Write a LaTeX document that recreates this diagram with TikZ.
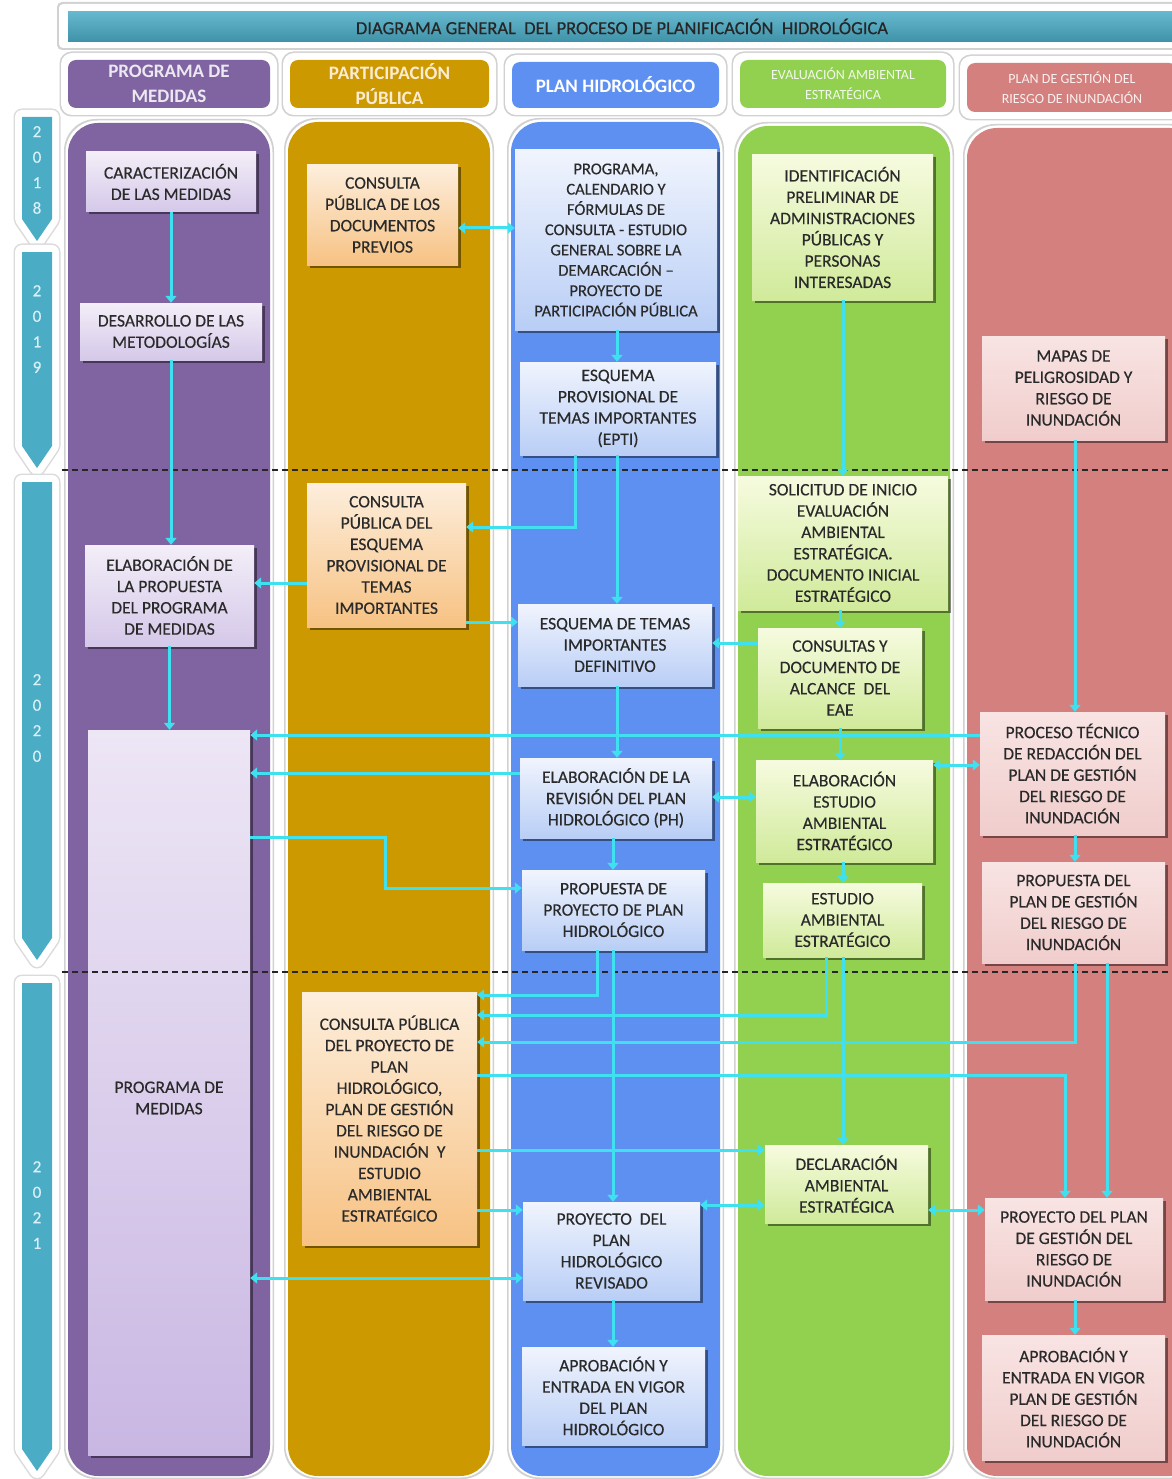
\documentclass[tikz,border=0pt]{standalone}
\usepackage{fontspec}
\setmainfont{Carlito}
\newfontfamily\boxfont{Carlito}[FakeBold=0.35]
\usetikzlibrary{arrows.meta,shadows}
\definecolor{cpurple}{HTML}{8064A2}
\definecolor{cgold}{HTML}{CC9900}
\definecolor{cblue}{HTML}{5E90F2}
\definecolor{cgreen}{HTML}{92D050}
\definecolor{cred}{HTML}{D4807E}
\definecolor{cteal}{HTML}{4BACC6}
\definecolor{cyanl}{HTML}{3FE0EF}
\definecolor{txt}{HTML}{2A2A2A}
\definecolor{yrtext}{HTML}{D8F0F6}
\definecolor{ptop}{HTML}{F3EEF8}
\definecolor{pbot}{HTML}{D5C8E9}
\definecolor{p4top}{HTML}{EDE6F5}
\definecolor{p4bot}{HTML}{C9B7E3}
\definecolor{gtop}{HTML}{FDEEDC}
\definecolor{gbot}{HTML}{F7C283}
\definecolor{btop}{HTML}{F0F4FD}
\definecolor{bbot}{HTML}{B9CEF6}
\definecolor{etop}{HTML}{F6FBDF}
\definecolor{ebot}{HTML}{D0EA9A}
\definecolor{rtop}{HTML}{F8E4E3}
\definecolor{rbot}{HTML}{F0CDCC}
\newcommand\mkbox[7]{\node[#2, minimum width={#5-#3}, minimum height={#6-#4}] (#1) at ({(#3+#5)/2},{(#4+#6)/2}) {#7};}
\newcommand\yeararrow[4]{%
 \draw[line width=17pt, black!14, line join=round] (22,#1) -- (52,#1) -- (52,{#2-22}) -- (37,#2) -- (22,{#2-22}) -- cycle;
 \draw[line width=14pt, white, line join=round] (22,#1) -- (52,#1) -- (52,{#2-22}) -- (37,#2) -- (22,{#2-22}) -- cycle;
 \fill[cteal] (22,#1) -- (52,#1) -- (52,{#2-22}) -- (37,#2) -- (22,{#2-22}) -- cycle;
 \node[yr] at (37,#3) {#4};}
\newcommand\column[6]{%
 \fill[black!18, rounded corners=32pt] ({#1-4},{#2-4}) rectangle ({#3+4},{#4+3});
 \fill[white, rounded corners=32pt] ({#1-2.5},{#2-2.5}) rectangle ({#3+2.5},{#4+1.5});
 \fill[#5, rounded corners=30pt] (#1,#2) rectangle (#3,#4);}
\begin{document}
\begin{tikzpicture}[x=1pt,y=-1pt,
 bx/.style={rectangle, inner sep=2pt, align=center, text=txt,
   font=\boxfont\fontsize{17.5}{21.3}\selectfont,
   drop shadow={shadow xshift=2.5pt, shadow yshift=-2.5pt, opacity=0.45, fill=black}},
 pbox/.style={bx, top color=ptop, bottom color=pbot},
 gbox/.style={bx, top color=gtop, bottom color=gbot},
 bbox/.style={bx, top color=btop, bottom color=bbot},
 ebox/.style={bx, top color=etop, bottom color=ebot},
 rbox/.style={bx, top color=rtop, bottom color=rbot},
 hdr/.style={rectangle, rounded corners=8pt, inner sep=0pt, align=center},
 yr/.style={text=yrtext, font=\boxfont\fontsize{17}{25.5}\selectfont, align=center, inner sep=0pt},
 ln/.style={draw=cyanl, line width=3pt},
 ar/.style={ln, -{Triangle[width=11pt,length=7pt]}},
 dar/.style={ln, {Triangle[width=11pt,length=7pt]}-{Triangle[width=11pt,length=7pt]}},
 sepline/.style={draw=black!85, line width=1.2pt, dash pattern=on 6pt off 4pt}]
\useasboundingbox (0,0) rectangle (1171,1479);
\fill[white] (0,0) rectangle (1171,1479);

% title bar
\fill[black!18, rounded corners=5pt] (57,2) rectangle (1190,50);
\fill[white, rounded corners=4pt] (59,4) rectangle (1190,48);
\node[rectangle, inner sep=0pt, minimum width=1108pt, minimum height=30pt,
  top color=cteal!85!white, bottom color=cteal!85!black, text=black!85,
  font=\boxfont\fontsize{18.5}{22}\selectfont] (title) at (622,26.5)
  {DIAGRAMA GENERAL\ \ DEL PROCESO DE PLANIFICACIÓN\ \ HIDROLÓGICA};

% headers
\foreach \a/\b/\c/\d in {61/53/277/115, 283/53/496/115, 505/55/726/115, 733/53/953/115, 960/56/1190/119}{
  \fill[black!18, rounded corners=12pt] ({\a-1.5},{\b-1.5}) rectangle ({\c+1.5},{\d+1.5});
  \fill[white, rounded corners=11pt] (\a,\b) rectangle (\c,\d);
}
\node[hdr, fill=cpurple, text=cpurple!15, minimum width=202pt, minimum height=48pt,
  font=\bfseries\fontsize{19}{25}\selectfont] (h1) at (169,84) {PROGRAMA DE\\MEDIDAS};
\node[hdr, fill=cgold, text=yellow!10!orange!15, minimum width=199pt, minimum height=48pt,
  font=\bfseries\fontsize{19}{25}\selectfont] (h2) at (389.5,84) {PARTICIPACIÓN\\PÚBLICA};
\node[hdr, fill=cblue, text=white, minimum width=207pt, minimum height=46pt,
  font=\bfseries\fontsize{19}{25}\selectfont] (h3) at (615.5,85) {PLAN HIDROLÓGICO};
\node[hdr, fill=cgreen, text=cgreen!12, minimum width=206pt, minimum height=48pt,
  font=\fontsize{14}{20}\selectfont] (h4) at (843,84) {EVALUACIÓN AMBIENTAL\\ESTRATÉGICA};
\node[hdr, fill=cred, text=cred!12, minimum width=210pt, minimum height=49pt,
  font=\fontsize{14}{20}\selectfont] (h5) at (1072,87.5) {PLAN DE GESTIÓN DEL\\RIESGO DE INUNDACIÓN};

% year arrows
\yeararrow{117}{241}{170}{2\\0\\1\\8}
\yeararrow{252}{468}{329}{2\\0\\1\\9}
\yeararrow{482}{960}{718}{2\\0\\2\\0}
\yeararrow{983}{1471}{1205}{2\\0\\2\\1}

% columns
\column{68}{123}{270}{1476}{cpurple}{}
\column{288}{122}{490}{1476}{cgold}{}
\column{511}{122}{720}{1476}{cblue}{}
\column{738}{126}{950}{1476}{cgreen}{}
\column{967}{128}{1200}{1476}{cred}{}

% boxes: programa de medidas
\mkbox{p1}{pbox}{86}{152}{256}{212}{CARACTERIZACIÓN\\DE LAS MEDIDAS}
\mkbox{p2}{pbox}{80}{303}{262}{360}{DESARROLLO DE LAS\\METODOLOGÍAS}
\mkbox{p3}{pbox}{85}{545}{254}{646}{ELABORACIÓN DE\\LA PROPUESTA\\DEL PROGRAMA\\DE MEDIDAS}
\mkbox{p4}{pbox, top color=p4top, bottom color=p4bot}{88}{730}{250}{1455}{\mbox{}\\[1pt]PROGRAMA DE\\MEDIDAS}
% participacion publica
\mkbox{g1}{gbox}{307}{165}{458}{265}{CONSULTA\\PÚBLICA DE LOS\\DOCUMENTOS\\PREVIOS}
\mkbox{g2}{gbox}{307}{483}{466}{627}{CONSULTA\\PÚBLICA DEL\\ESQUEMA\\PROVISIONAL DE\\TEMAS\\IMPORTANTES}
\mkbox{g3}{gbox}{302}{992}{477}{1245}{CONSULTA PÚBLICA\\DEL PROYECTO DE\\PLAN\\HIDROLÓGICO,\\PLAN DE GESTIÓN\\DEL RIESGO DE\\INUNDACIÓN\ \ Y\\ESTUDIO\\AMBIENTAL\\ESTRATÉGICO}
% plan hidrologico
\mkbox{b1}{bbox,font=\boxfont\fontsize{16.5}{20.3}\selectfont}{515}{150}{717}{330}{PROGRAMA,\\CALENDARIO Y\\FÓRMULAS DE\\CONSULTA - ESTUDIO\\GENERAL SOBRE LA\\DEMARCACIÓN –\\PROYECTO DE\\PARTICIPACIÓN PÚBLICA}
\mkbox{b2}{bbox}{520}{362}{716}{455}{ESQUEMA\\PROVISIONAL DE\\TEMAS IMPORTANTES\\(EPTI)}
\mkbox{b3}{bbox}{518}{604}{712}{686}{ESQUEMA DE TEMAS\\IMPORTANTES\\DEFINITIVO}
\mkbox{b4}{bbox}{520}{758}{712}{838}{ELABORACIÓN DE LA\\REVISIÓN DEL PLAN\\HIDROLÓGICO (PH)}
\mkbox{b5}{bbox}{522}{870}{705}{950}{PROPUESTA DE\\PROYECTO DE PLAN\\HIDROLÓGICO}
\mkbox{b6}{bbox}{523}{1202}{700}{1300}{PROYECTO\ \ DEL\\PLAN\\HIDROLÓGICO\\REVISADO}
\mkbox{b7}{bbox}{522}{1347}{705}{1445}{APROBACIÓN Y\\ENTRADA EN VIGOR\\DEL PLAN\\HIDROLÓGICO}
% evaluacion ambiental
\mkbox{e1}{ebox}{752}{155}{933}{300}{IDENTIFICACIÓN\\PRELIMINAR DE\\ADMINISTRACIONES\\PÚBLICAS Y\\PERSONAS\\INTERESADAS}
\mkbox{e2}{ebox}{738}{476}{948}{610}{SOLICITUD DE INICIO\\EVALUACIÓN\\AMBIENTAL\\ESTRATÉGICA.\\DOCUMENTO INICIAL\\ESTRATÉGICO}
\mkbox{e3}{ebox}{758}{628}{922}{728}{CONSULTAS Y\\DOCUMENTO DE\\ALCANCE\ \ DEL\\EAE}
\mkbox{e4}{ebox}{756}{760}{933}{862}{ELABORACIÓN\\ESTUDIO\\AMBIENTAL\\ESTRATÉGICO}
\mkbox{e5}{ebox}{763}{883}{922}{957}{ESTUDIO\\AMBIENTAL\\ESTRATÉGICO}
\mkbox{e6}{ebox}{765}{1145}{928}{1223}{DECLARACIÓN\\AMBIENTAL\\ESTRATÉGICA}
% riesgo de inundacion
\mkbox{r1}{rbox}{982}{336}{1165}{440}{MAPAS DE\\PELIGROSIDAD Y\\RIESGO DE\\INUNDACIÓN}
\mkbox{r2}{rbox}{980}{712}{1165}{835}{PROCESO TÉCNICO\\DE REDACCIÓN DEL\\PLAN DE GESTIÓN\\DEL RIESGO DE\\INUNDACIÓN}
\mkbox{r3}{rbox}{982}{862}{1165}{963}{PROPUESTA DEL\\PLAN DE GESTIÓN\\DEL RIESGO DE\\INUNDACIÓN}
\mkbox{r4}{rbox}{985}{1198}{1163}{1300}{PROYECTO DEL PLAN\\DE GESTIÓN DEL\\RIESGO DE\\INUNDACIÓN}
\mkbox{r5}{rbox}{982}{1335}{1165}{1460}{APROBACIÓN Y\\ENTRADA EN VIGOR\\PLAN DE GESTIÓN\\DEL RIESGO DE\\INUNDACIÓN}

% year separators
\draw[sepline] (62,470) -- (1171,470);
\draw[sepline] (62,972) -- (1171,972);

% helper coordinates
\coordinate (X385) at (385,0);
\coordinate (X575) at (575,0);
\coordinate (X597) at (597,0);
\coordinate (X613) at (613,0);
\coordinate (X617) at (617,0);
\coordinate (X826) at (826,0);
\coordinate (X840) at (840,0);
\coordinate (X843) at (843,0);
\coordinate (X1065) at (1065,0);
\coordinate (X1075) at (1075,0);
\coordinate (X1107) at (1107,0);
\coordinate (Y228) at (0,228);
\coordinate (Y527) at (0,527);
\coordinate (Y583) at (0,583);
\coordinate (Y622) at (0,622);
\coordinate (Y643) at (0,643);
\coordinate (Y735) at (0,735);
\coordinate (Y765) at (0,765);
\coordinate (Y773) at (0,773);
\coordinate (Y797) at (0,797);
\coordinate (Y837) at (0,837);
\coordinate (Y888) at (0,888);
\coordinate (Y995) at (0,995);
\coordinate (Y1015) at (0,1015);
\coordinate (Y1042) at (0,1042);
\coordinate (Y1075) at (0,1075);
\coordinate (Y1150) at (0,1150);
\coordinate (Y1205) at (0,1205);
\coordinate (Y1210) at (0,1210);
\coordinate (Y1278) at (0,1278);

% connectors
\draw[ar] (p1.south) -- (p1.south |- p2.north);
\draw[ar] (p2.south) -- (p2.south |- p3.north);
\draw[ar] (p3.south) -- (p3.south |- p4.north);
\draw[dar] (g1.east |- Y228) -- (b1.west |- Y228);
\draw[ar] (b1.south -| X617) -- (b2.north -| X617);
\draw[ar] (b2.south -| X575) |- (g2.east |- Y527);
\draw[ar] (b2.south -| X617) -- (b3.north -| X617);
\draw[ar] (g2.west |- Y583) -- (p3.east |- Y583);
\draw[ar] (g2.east |- Y622) -- (b3.west |- Y622);
\draw[ar] (e1.south -| X843) -- (e2.north -| X843);
\draw[ar] (e2.south -| X840) -- (e3.north -| X840);
\draw[ar] (e3.west |- Y643) -- (b3.east |- Y643);
\draw[ar] (r1.south -| X1075) -- (r2.north -| X1075);
\draw[ar] (r2.west |- Y735) -- (p4.east |- Y735);
\draw[ar] (b3.south -| X617) -- (b4.north -| X617);
\draw[ar] (e3.south -| X840) -- (e4.north -| X840);
\draw[ar] (b4.west |- Y773) -- (p4.east |- Y773);
\draw[dar] (e4.west |- Y797) -- (b4.east |- Y797);
\draw[dar] (e4.east |- Y765) -- (r2.west |- Y765);
\draw[ar] (b4.south -| X613) -- (b5.north -| X613);
\draw[ar] (p4.east |- Y837) -| (X385 |- Y888) -- (b5.west |- Y888);
\draw[ar] (e4.south -| X843) -- (e5.north -| X843);
\draw[ar] (r2.south -| X1075) -- (r3.north -| X1075);
\draw[ar] (b5.south -| X597) |- (g3.east |- Y995);
\draw[ar] (b5.south -| X613) -- (b6.north -| X613);
\draw[ar] (e5.south -| X826) |- (g3.east |- Y1015);
\draw[ar] (e5.south -| X843) -- (e6.north -| X843);
\draw[ar] (r3.south -| X1075) |- (g3.east |- Y1042);
\draw[ar] (g3.east |- Y1075) -| (r4.north -| X1065);
\draw[ar] (r3.south -| X1107) -- (r4.north -| X1107);
\draw[ar] (g3.east |- Y1150) -- (e6.west |- Y1150);
\draw[ar] (g3.east |- Y1210) -- (b6.west |- Y1210);
\draw[dar] (e6.west |- Y1205) -- (b6.east |- Y1205);
\draw[dar] (e6.east |- Y1210) -- (r4.west |- Y1210);
\draw[dar] (b6.west |- Y1278) -- (p4.east |- Y1278);
\draw[ar] (b6.south -| X613) -- (b7.north -| X613);
\draw[ar] (r4.south -| X1075) -- (r5.north -| X1075);
\end{tikzpicture}
\end{document}
